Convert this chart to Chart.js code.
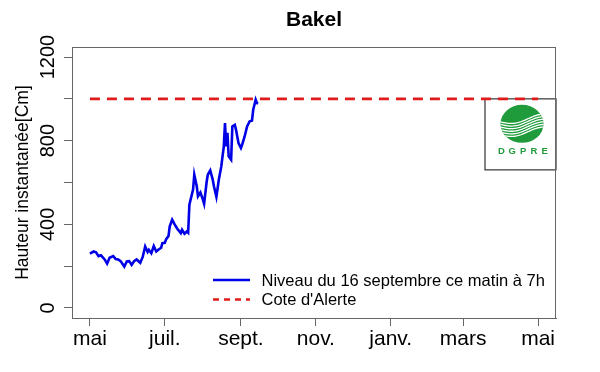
<!DOCTYPE html>
<html>
<head>
<meta charset="utf-8">
<script src="https://cdn.jsdelivr.net/npm/chart.js@4.4.1/dist/chart.umd.min.js"></script>
<style>
  html, body { margin: 0; padding: 0; background: #fff; }
</style>
</head>
<body>
<canvas id="bakelChart" width="600" height="372"></canvas>
<script>
// ========== Data ==========
// days counted from 1 May
const dayOffsets = [0, 3, 5, 7, 9, 12, 14, 16, 19, 21, 23, 25, 28, 30, 32, 34, 36, 38, 41, 43,
  45, 47, 48, 50, 52, 54, 56, 58, 59, 61, 62, 64, 65, 67, 69, 71, 74, 75, 77, 79,
  80, 81, 84, 85, 87, 88, 90, 92, 93, 95, 96, 98, 100, 101, 103, 105, 107, 108, 109, 110,
  111, 112, 113, 115, 116, 118, 119, 121, 123, 124, 126, 128, 130, 132, 133, 135, 136, 137];
const levels = [260, 270, 266, 248, 252, 232, 212, 240, 248, 234, 232, 224, 198, 222, 224, 206, 224, 232, 216, 244,
  294, 268, 278, 262, 296, 270, 280, 288, 310, 312, 328, 344, 390, 422, 400, 380, 358, 374, 355, 366,
  360, 494, 566, 637, 582, 534, 552, 518, 498, 600, 637, 658, 614, 582, 531, 614, 677, 725, 770, 884,
  773, 837, 725, 709, 868, 876, 852, 789, 765, 781, 820, 868, 892, 896, 948, 996, 980, 977];

const alertDays = [0, 365];
const alertLevels = [1000, 1000];

const monthTicks = [0, 61, 123, 184, 245, 304, 365];
const monthLabels = ['mai', 'juil.', 'sept.', 'nov.', 'janv.', 'mars', 'mai'];
const levelTicks = [0, 200, 400, 600, 800, 1000, 1200];
const labelledLevels = [0, 400, 800, 1200];

const seriesNames = ['Niveau du 16 septembre ce matin à 7h', "Cote d'Alerte"];

// ========== Utils ==========
const FONT = "'Liberation Sans', Arial, sans-serif";
const AXIS_GREY = '#666';
const LOGO_GREEN = '#1f9b3b';

function toPoints(xs, ys) {
  return xs.map((x, i) => ({ x, y: ys[i] }));
}

// ========== R-style decorations ==========
const rDecor = {
  id: 'rDecor',
  beforeDatasetsDraw(chart) {
    const { ctx, chartArea: a } = chart;
    // logo box (DGPRE)
    const bx = a.right - 71, by = chart.scales.y.getPixelForValue(1000), bw = 71, bh = 71;
    ctx.save();
    ctx.fillStyle = '#fff';
    ctx.fillRect(bx, by, bw, bh);
    ctx.strokeStyle = '#333';
    ctx.lineWidth = 1.2;
    ctx.strokeRect(bx, by, bw, bh);
    const cx = bx + 37, cy = by + 25, rx = 21.5, ry = 19;
    ctx.beginPath();
    ctx.ellipse(cx, cy, rx, ry, 0, 0, Math.PI * 2);
    ctx.fillStyle = LOGO_GREEN;
    ctx.fill();
    ctx.save();
    ctx.clip();
    ctx.strokeStyle = '#fff';
    ctx.lineWidth = 1.3;
    for (let k = 0; k < 6; k++) {
      ctx.beginPath();
      for (let t = 0; t <= 44; t++) {
        const u = t / 44;
        const yy = cy - 2 + k * 2.6 + 3 * Math.sin(2 * Math.PI * u * 0.8) - 5 * u;
        if (t === 0) ctx.moveTo(cx - rx + t, yy); else ctx.lineTo(cx - rx + t, yy);
      }
      ctx.stroke();
    }
    ctx.restore();
    // spaced letters under the emblem
    ctx.fillStyle = LOGO_GREEN;
    ctx.font = 'bold 9.5px ' + FONT;
    ctx.textAlign = 'center';
    ctx.textBaseline = 'middle';
    const letters = 'DGPRE'.split('');
    letters.forEach((ch, i) => {
      ctx.fillText(ch, bx + 16.5 + i * 10.8, by + 52.5);
    });
    ctx.restore();
  },
  afterDraw(chart) {
    const { ctx, chartArea: a } = chart;
    ctx.save();
    // plot box
    ctx.strokeStyle = AXIS_GREY;
    ctx.lineWidth = 1;
    ctx.strokeRect(a.left + 0.5, a.top + 0.5, a.right - a.left - 1, a.bottom - a.top);
    // title
    ctx.fillStyle = '#000';
    ctx.font = 'bold 21px ' + FONT;
    ctx.textAlign = 'center';
    ctx.textBaseline = 'middle';
    ctx.fillText('Bakel', (a.left + a.right) / 2, 20);
    // y axis title
    ctx.save();
    ctx.translate(23, (a.top + a.bottom) / 2);
    ctx.rotate(-Math.PI / 2);
    ctx.font = '17.5px ' + FONT;
    ctx.fillText('Hauteur instantanée[Cm]', 0, 0);
    ctx.restore();
    // legend
    const rows = [280, 299.5];
    chart.data.datasets.forEach((ds, i) => {
      ctx.beginPath();
      ctx.strokeStyle = ds.borderColor;
      ctx.lineWidth = 2.5;
      ctx.setLineDash(ds.borderDash && ds.borderDash.length ? [6, 5] : []);
      ctx.moveTo(213, rows[i]);
      ctx.lineTo(250, rows[i]);
      ctx.stroke();
      ctx.setLineDash([]);
      ctx.fillStyle = '#000';
      ctx.font = '16.5px ' + FONT;
      ctx.textAlign = 'left';
      ctx.textBaseline = 'middle';
      ctx.fillText(ds.label, 261.5, rows[i] + 1);
    });
    ctx.restore();
  }
};

// ========== Chart ==========
new Chart(document.getElementById('bakelChart'), {
  type: 'line',
  data: {
    datasets: [
      {
        label: seriesNames[0],
        data: toPoints(dayOffsets, levels),
        borderColor: '#0000e6',
        borderWidth: 2.6,
        pointRadius: 0,
        tension: 0,
        order: 1
      },
      {
        label: seriesNames[1],
        data: toPoints(alertDays, alertLevels),
        borderColor: '#e01b1b',
        borderWidth: 2.8,
        borderDash: [10, 7],
        pointRadius: 0,
        order: 0
      }
    ]
  },
  options: {
    responsive: false,
    animation: false,
    devicePixelRatio: 1,
    layout: { padding: { top: 47, right: 44, left: 0, bottom: 0 } },
    plugins: { legend: { display: false }, tooltip: { enabled: false } },
    scales: {
      x: {
        type: 'linear',
        min: -14.6,
        max: 379.6,
        afterBuildTicks: s => { s.ticks = monthTicks.map(v => ({ value: v })); },
        afterFit: s => { s.height = 54; },
        ticks: {
          autoSkip: false,
          maxRotation: 0,
          padding: 1,
          color: '#000',
          font: { family: FONT, size: 21 },
          callback: (v, i) => monthLabels[i]
        },
        grid: { drawOnChartArea: false, tickLength: 8, color: AXIS_GREY },
        border: { color: AXIS_GREY }
      },
      y: {
        type: 'linear',
        min: -48,
        max: 1248,
        afterBuildTicks: s => { s.ticks = levelTicks.map(v => ({ value: v })); },
        afterFit: s => { s.width = 72; },
        ticks: {
          autoSkip: false,
          minRotation: 90,
          maxRotation: 90,
          crossAlign: 'center',
          padding: -7,
          color: '#000',
          font: { family: FONT, size: 20 },
          callback: v => labelledLevels.includes(v) ? String(v) : ''
        },
        grid: { drawOnChartArea: false, tickLength: 8, color: AXIS_GREY },
        border: { color: AXIS_GREY }
      }
    }
  },
  plugins: [rDecor]
});
</script>
</body>
</html>
